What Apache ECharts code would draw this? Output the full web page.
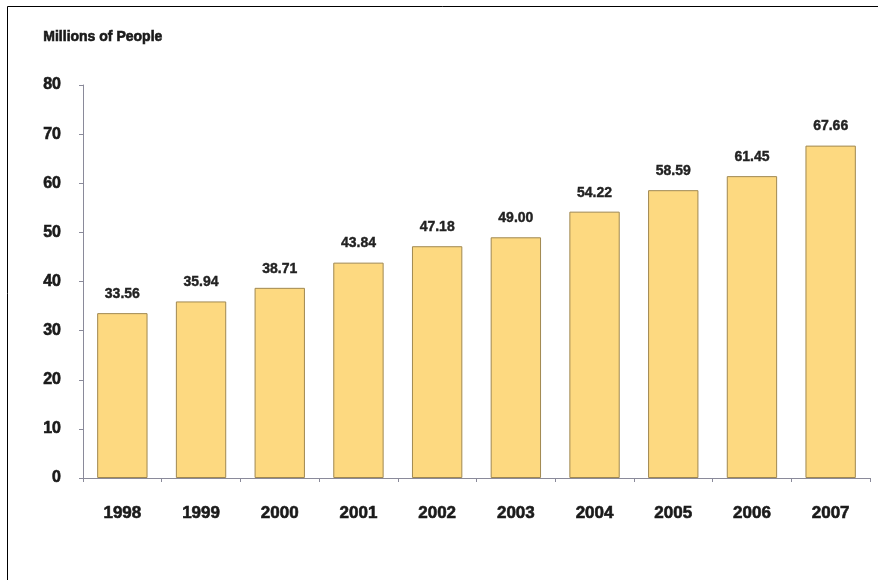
<!DOCTYPE html>
<html><head><meta charset="utf-8">
<script src="https://cdn.jsdelivr.net/npm/echarts@6/dist/echarts.min.js"></script>
<style>html,body{margin:0;padding:0;background:#fff}#c{width:878px;height:580px}</style>
</head><body><div id="c"></div>
<script>
const years = ['1998','1999','2000','2001','2002','2003','2004','2005','2006','2007'];
const people = [33.56, 35.94, 38.71, 43.84, 47.18, 49.00, 54.22, 58.59, 61.45, 67.66];
const yTicks = [0, 10, 20, 30, 40, 50, 60, 70, 80];
const title = 'Millions of People';

const FF = '"Liberation Sans", Arial, sans-serif';
const chart = echarts.init(document.getElementById('c'), null, {renderer: 'canvas'});
chart.setOption({
  animation: false,
  backgroundColor: '#fff',
  graphic: [
    {type: 'line', shape: {x1: 7.5, y1: 6.5, x2: 878, y2: 6.5}, style: {stroke: '#000', lineWidth: 1}},
    {type: 'line', shape: {x1: 7.5, y1: 6.5, x2: 7.5, y2: 580}, style: {stroke: '#000', lineWidth: 1}},
    {type: 'text', left: 43, top: 30, style: {text: title, font: 'bold 14px ' + FF, fill: '#1a1a1a', stroke: '#1a1a1a', lineWidth: 0.6}}
  ],
  grid: {left: 83, right: 8, top: 85, bottom: 102, containLabel: false},
  xAxis: {
    type: 'category', data: years,
    axisLine: {lineStyle: {color: '#8a8a9a', width: 1}},
    axisTick: {show: true, length: 4, lineStyle: {color: '#8a8a9a'}},
    axisLabel: {margin: 27, color: '#1a1a1a', fontWeight: 'bold', fontSize: 17, fontFamily: FF,
      textBorderColor: '#1a1a1a', textBorderWidth: 0.6}
  },
  yAxis: {
    type: 'value', min: yTicks[0], max: yTicks[yTicks.length - 1], interval: 10,
    axisLine: {show: true, lineStyle: {color: '#8a8a9a', width: 1}},
    axisTick: {show: true, length: 4, lineStyle: {color: '#8a8a9a'}},
    splitLine: {show: false},
    axisLabel: {margin: 22, color: '#1a1a1a', fontWeight: 'bold', fontSize: 16, fontFamily: FF,
      textBorderColor: '#1a1a1a', textBorderWidth: 0.6}
  },
  series: [{
    type: 'bar', data: people, barWidth: '64%',
    itemStyle: {color: '#FDD980', borderColor: '#A08850', borderWidth: 1},
    label: {show: true, position: 'top', distance: 12, formatter: p => p.value.toFixed(2),
      color: '#222', fontWeight: 'bold', fontSize: 14, fontFamily: FF,
      textBorderColor: '#222', textBorderWidth: 0.4}
  }]
});
</script></body></html>
